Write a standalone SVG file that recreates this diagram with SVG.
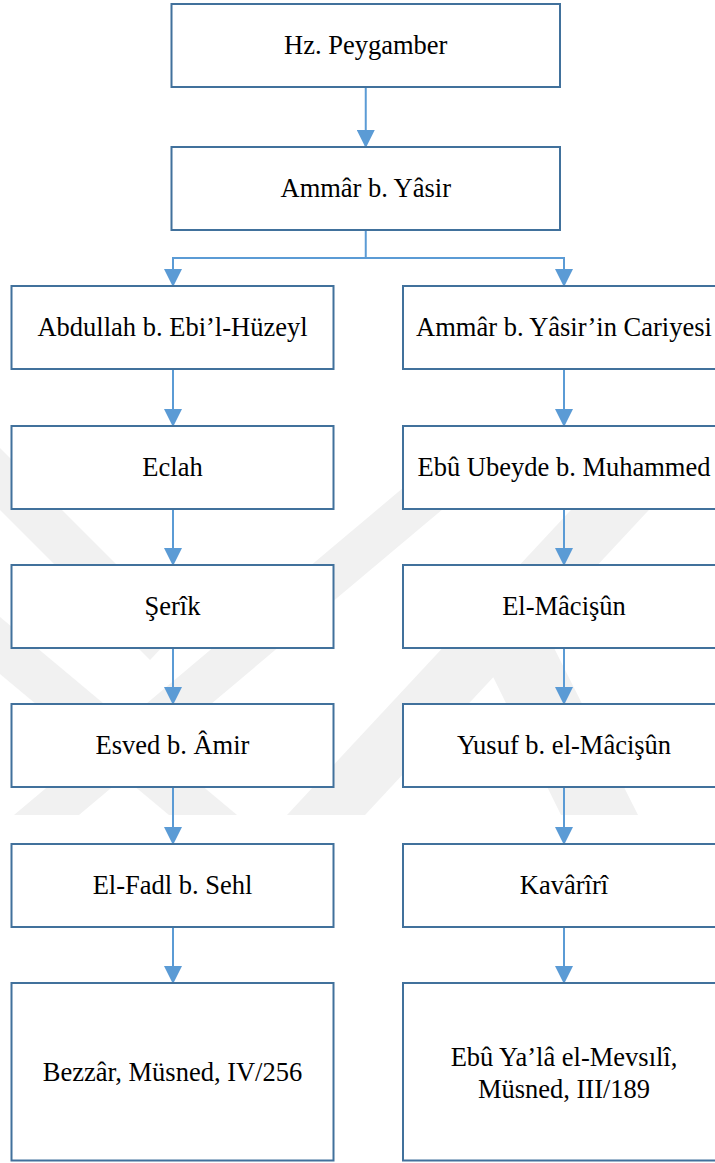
<svg xmlns="http://www.w3.org/2000/svg" width="715" height="1163" viewBox="0 0 715 1163">
  <defs>
    <style>
      .wm { fill: #f1f1f1; }
      .box { fill: #ffffff; stroke: #41719C; stroke-width: 2; }
      .lbl { font-size: 26.5px; fill: #000000; text-anchor: middle; }
      .con { fill: none; stroke: #5B9BD5; stroke-width: 2; }
    </style>
    <marker id="arrow" viewBox="0 0 18 18" refX="17" refY="9" markerWidth="18" markerHeight="18" markerUnits="userSpaceOnUse" orient="auto">
      <path d="M0,0 L18,9 L0,18 Z" fill="#5B9BD5"/>
    </marker>
  </defs>
  <rect x="0" y="0" width="715" height="1163" fill="#ffffff"/>

  <g id="watermark">
    <polygon class="wm" points="14,815 79,815 525,440 460,440"/>
    <polygon class="wm" points="287,815 365,815 714,440 636,440"/>
    <polygon class="wm" points="470,630 545,630 638,815 561,815"/>
    <polygon class="wm" points="0,448 180,628 150,660 0,510"/>
    <polygon class="wm" points="169,815 237,815 0,617 0,674"/>
  </g>

  <g id="connectors">
    <line class="con" x1="365.75" y1="87" x2="365.75" y2="147" marker-end="url(#arrow)"/>
    <polyline class="con" points="365.75,230 365.75,258"/>
    <polyline class="con" points="173,258 564,258"/>
    <line class="con" x1="173" y1="257" x2="173" y2="286" marker-end="url(#arrow)"/>
    <line class="con" x1="564" y1="257" x2="564" y2="286" marker-end="url(#arrow)"/>
    <line class="con" x1="173" y1="369" x2="173" y2="426" marker-end="url(#arrow)"/>
    <line class="con" x1="173" y1="509" x2="173" y2="565" marker-end="url(#arrow)"/>
    <line class="con" x1="173" y1="648" x2="173" y2="704" marker-end="url(#arrow)"/>
    <line class="con" x1="173" y1="787" x2="173" y2="844" marker-end="url(#arrow)"/>
    <line class="con" x1="173" y1="927" x2="173" y2="983" marker-end="url(#arrow)"/>
    <line class="con" x1="564" y1="369" x2="564" y2="426" marker-end="url(#arrow)"/>
    <line class="con" x1="564" y1="509" x2="564" y2="565" marker-end="url(#arrow)"/>
    <line class="con" x1="564" y1="648" x2="564" y2="704" marker-end="url(#arrow)"/>
    <line class="con" x1="564" y1="787" x2="564" y2="844" marker-end="url(#arrow)"/>
    <line class="con" x1="564" y1="927" x2="564" y2="983" marker-end="url(#arrow)"/>
  </g>

  <g font-family="'Liberation Serif', 'Times New Roman', Times, 'DejaVu Serif', serif">
  <g id="n-peygamber">
    <rect class="box" x="171.5" y="4" width="388.5" height="83"/>
    <text class="lbl" x="365.75" y="54">Hz. Peygamber</text>
  </g>
  <g id="n-ammar">
    <rect class="box" x="171.5" y="147" width="388.5" height="83"/>
    <text class="lbl" x="365.75" y="197">Ammâr b. Yâsir</text>
  </g>

  <g id="n-abdullah">
    <rect class="box" x="11.5" y="286" width="322" height="83"/>
    <text class="lbl" x="172.5" y="336">Abdullah b. Ebi’l-Hüzeyl</text>
  </g>
  <g id="n-eclah">
    <rect class="box" x="11.5" y="426" width="322" height="83"/>
    <text class="lbl" x="172.5" y="476">Eclah</text>
  </g>
  <g id="n-serik">
    <rect class="box" x="11.5" y="565" width="322" height="83"/>
    <text class="lbl" x="172.5" y="615">Şerîk</text>
  </g>
  <g id="n-esved">
    <rect class="box" x="11.5" y="704" width="322" height="83"/>
    <text class="lbl" x="172.5" y="754">Esved b. Âmir</text>
  </g>
  <g id="n-fadl">
    <rect class="box" x="11.5" y="844" width="322" height="83"/>
    <text class="lbl" x="172.5" y="894">El-Fadl b. Sehl</text>
  </g>
  <g id="n-bezzar">
    <rect class="box" x="11.5" y="983" width="322" height="177.5"/>
    <text class="lbl" x="172.5" y="1081">Bezzâr, Müsned, IV/256</text>
  </g>

  <g id="n-cariye">
    <rect class="box" x="403" y="286" width="322" height="83"/>
    <text class="lbl" x="564" y="336">Ammâr b. Yâsir’in Cariyesi</text>
  </g>
  <g id="n-ebu-ubeyde">
    <rect class="box" x="403" y="426" width="322" height="83"/>
    <text class="lbl" x="564" y="476">Ebû Ubeyde b. Muhammed</text>
  </g>
  <g id="n-macisun">
    <rect class="box" x="403" y="565" width="322" height="83"/>
    <text class="lbl" x="564" y="615">El-Mâcişûn</text>
  </g>
  <g id="n-yusuf">
    <rect class="box" x="403" y="704" width="322" height="83"/>
    <text class="lbl" x="564" y="754">Yusuf b. el-Mâcişûn</text>
  </g>
  <g id="n-kavariri">
    <rect class="box" x="403" y="844" width="322" height="83"/>
    <text class="lbl" x="564" y="894">Kavârîrî</text>
  </g>
  <g id="n-ebu-yala">
    <rect class="box" x="403" y="983" width="322" height="177.5"/>
    <text class="lbl" x="564" y="1066">Ebû Ya’lâ el-Mevsılî,</text>
    <text class="lbl" x="564" y="1097.5">Müsned, III/189</text>
  </g>
  </g>
</svg>
